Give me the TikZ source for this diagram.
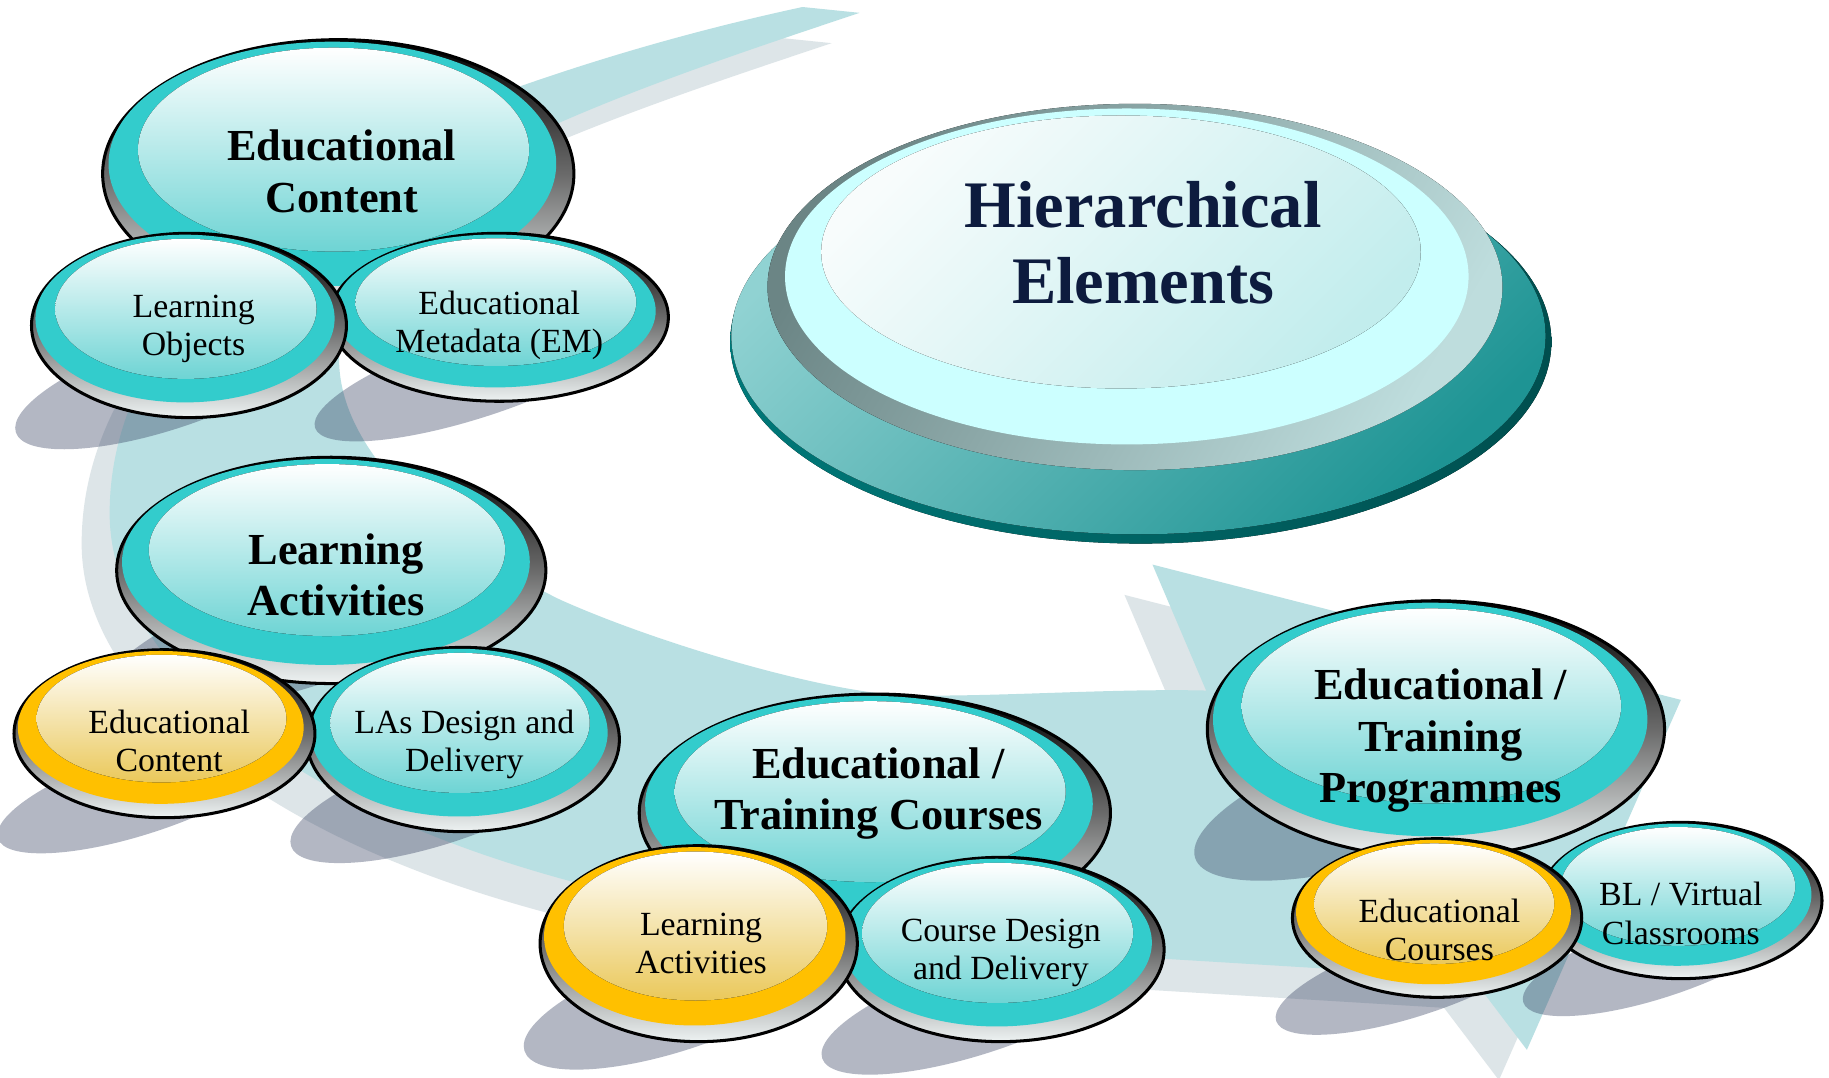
\documentclass[tikz,border=0pt]{standalone}
\usepackage{fontspec}
\setmainfont{Liberation Serif}
\usetikzlibrary{calc}

\definecolor{band}{HTML}{B9E0E3}
\definecolor{bandshade}{HTML}{DDE5E8}
\definecolor{castshade}{HTML}{2D385A}
\definecolor{tealface}{HTML}{33CCCC}
\definecolor{tealglow}{HTML}{6ED4D4}
\definecolor{goldface}{HTML}{FFC000}
\definecolor{goldglow}{HTML}{EAC85A}
\definecolor{rimlight}{HTML}{EEF3F3}
\definecolor{rimmid}{HTML}{6A6A6A}
\definecolor{navy}{HTML}{0D1B3E}
\definecolor{heRimL}{HTML}{007878}
\definecolor{heRimR}{HTML}{004F4F}
\definecolor{heDiskT}{HTML}{90D2D2}
\definecolor{heDiskB}{HTML}{1E9494}
\definecolor{heRingL}{HTML}{6B8585}
\definecolor{heRingR}{HTML}{BEDDDD}
\definecolor{heFace}{HTML}{CCFFFF}
\definecolor{heGlowT}{HTML}{F8FCFC}
\definecolor{heGlowB}{HTML}{C2EDED}

% cast shadow lying under a button
\newcommand{\btnshade}[4]{%
  \pgfmathsetmacro{\shx}{#1-20}%
  \pgfmathsetmacro{\shy}{#2+50}%
  \pgfmathsetmacro{\shb}{0.5*#4}%
  \fill[castshade, rotate around={18:(\shx,\shy)}] (\shx,\shy) ellipse [x radius=#3pt, y radius=\shb pt];}

% button: bevelled rim, coloured face, glossy highlight
\newcommand{\btnbody}[6]{%
  \pgfmathsetmacro{\bfx}{#1-0.025*#3}%
  \pgfmathsetmacro{\bfy}{#2-0.075*#4}%
  \pgfmathsetmacro{\bfa}{0.95*#3}%
  \pgfmathsetmacro{\bfb}{0.91*#4}%
  \pgfmathsetmacro{\bhx}{#1-0.02*#3}%
  \pgfmathsetmacro{\bhy}{#2-0.18*#4}%
  \pgfmathsetmacro{\bha}{0.83*#3}%
  \pgfmathsetmacro{\bhb}{0.76*#4}%
  \draw[rim] (#1,#2) ellipse [x radius=#3pt, y radius=#4pt];
  \fill[#5] (\bfx,\bfy) ellipse [x radius=\bfa pt, y radius=\bfb pt];
  \fill[top color=white, bottom color=#6] (\bhx,\bhy) ellipse [x radius=\bha pt, y radius=\bhb pt];}

\tikzset{
  rim/.style={draw=black, line width=2.6pt, top color=black, bottom color=rimlight, middle color=rimmid},
  bigtext/.style={font=\bfseries\fontsize{38}{44}\selectfont, align=center, inner sep=0pt, text=black},
  smalltext/.style={font=\fontsize{29}{33}\selectfont, align=center, inner sep=0pt, text=black},
  titletext/.style={font=\bfseries\fontsize{57}{65}\selectfont, align=center, inner sep=0pt, text=navy},
}

\newcommand{\bandpath}{%
  (688,6) .. controls (600,25) and (520,48) .. (443,75)
  .. controls (250,150) and (94,280) .. (94,440)
  .. controls (94,560) and (230,660) .. (365,714)
  .. controls (550,790) and (800,815) .. (999,822)
  -- (1262,838) -- (1309,900) -- (1441,600) -- (988,484) -- (1034,592)
  .. controls (950,590) and (850,598) .. (772,596)
  .. controls (700,592) and (560,550) .. (480,514)
  .. controls (370,460) and (285,380) .. (291,300)
  .. controls (300,200) and (380,150) .. (480,105)
  .. controls (560,70) and (650,40) .. (737,11) -- cycle}

\begin{document}
\begin{tikzpicture}[x=1pt, y=-1pt]
\useasboundingbox (0,0) rectangle (1568,924);
\fill[white] (0,0) rectangle (1568,924);

% curved arrow behind the buttons, with its soft shadow
\fill[bandshade, shift={(-24,26)}] \bandpath;
\fill[band] \bandpath;

% cast shadows of all buttons
\begin{scope}[transparency group, opacity=0.36]
  \btnshade{290}{149}{202}{115}
  \btnshade{428}{272}{145}{72}
  \btnshade{162}{279}{135}{79}
  \btnshade{284}{489}{184}{97}
  \btnshade{397}{634}{134}{79}
  \btnshade{141}{629}{129}{72}
  \btnshade{750}{697}{202}{102}
  \btnshade{858}{814}{140}{79}
  \btnshade{599}{809}{136}{84}
  \btnshade{1231}{625}{196}{110}
  \btnshade{1441}{772}{121}{67}
  \btnshade{1232}{787}{124}{68}
\end{scope}

% central button
\fill[left color=heRimL, right color=heRimR] (978,293) ellipse [x radius=352pt, y radius=173pt];
\fill[top color=heDiskT, bottom color=heDiskB, shading angle=45] (976,288) ellipse [x radius=349pt, y radius=170pt];
\fill[left color=heRingL, right color=heRingR, shading angle=60] (973,246) ellipse [x radius=315pt, y radius=157pt];
\fill[heFace] (966,237) ellipse [x radius=293pt, y radius=144pt];
\fill[top color=heGlowT, bottom color=heGlowB, shading angle=45] (961,216) ellipse [x radius=257pt, y radius=117pt];
\node[titletext] (hier) at (980,208) {Hierarchical\\Elements};

% educational content group
\btnbody{290}{149}{202}{115}{tealface}{tealglow}
\btnbody{428}{272}{145}{72}{tealface}{tealglow}
\btnbody{162}{279}{135}{79}{tealface}{tealglow}
\node[bigtext] (ec) at (293,147) {Educational\\Content};
\node[smalltext] (em) at (428,279) {Educational\\Metadata (EM)};
\node[smalltext] (lo) at (166,282) {Learning\\Objects};

% learning activities group
\btnbody{284}{489}{184}{97}{tealface}{tealglow}
\btnbody{397}{634}{134}{79}{tealface}{tealglow}
\btnbody{141}{629}{129}{72}{goldface}{goldglow}
\node[bigtext] (la) at (288,493) {Learning\\Activities};
\node[smalltext] (lad) at (398,638) {LAs Design and\\Delivery};
\node[smalltext] (lac) at (145,635) {Educational\\Content};

% courses group
\btnbody{750}{697}{202}{102}{tealface}{tealglow}
\btnbody{858}{814}{140}{79}{tealface}{tealglow}
\btnbody{599}{809}{136}{84}{goldface}{goldglow}
\node[bigtext] (etc) at (753,680) {Educational /\\Training Courses};
\node[smalltext] (cd) at (858,817) {Course Design\\and Delivery};
\node[smalltext] (cla) at (601,809) {Learning\\Activities};

% programmes group
\btnbody{1231}{625}{196}{110}{tealface}{tealglow}
\btnbody{1441}{772}{121}{67}{tealface}{tealglow}
\btnbody{1232}{787}{124}{68}{goldface}{goldglow}
\node[bigtext] (etp) at (1235,635) {Educational /\\Training\\Programmes};
\node[smalltext] (bl) at (1441,783) {BL / Virtual\\Classrooms};
\node[smalltext] (pec) at (1234,797) {Educational\\Courses};
\end{tikzpicture}
\end{document}
